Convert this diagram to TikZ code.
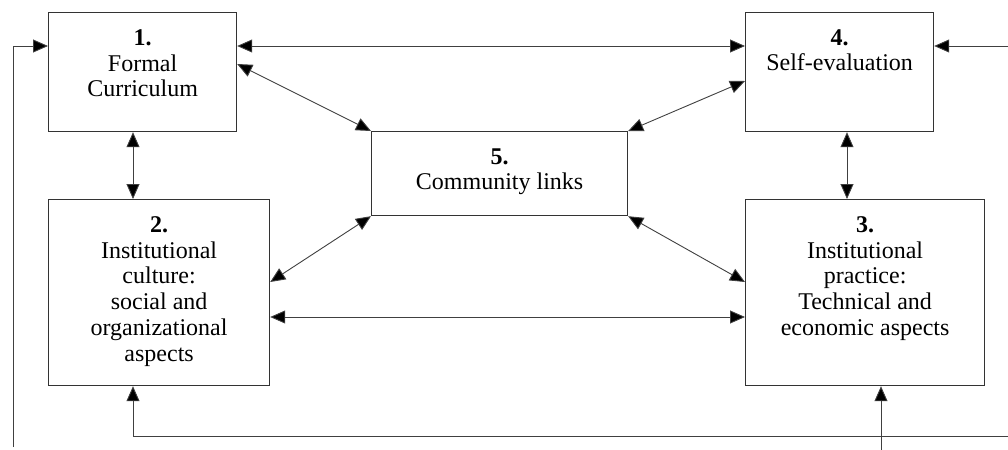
\documentclass[tikz,border=0pt]{standalone}
\usepackage{fontspec}
\setmainfont{Liberation Serif}
\usetikzlibrary{arrows.meta,calc}
\tikzset{
  box/.style={draw=black!80, line width=0.6pt, rectangle, anchor=north west, inner sep=0pt},
  lbl/.style={anchor=north, inner sep=0pt, align=center, font=\fontsize{12}{12.9}\selectfont},
  arr/.style={draw=black!75, line width=0.45pt, -{Triangle[length=7.5pt,width=6.5pt,fill=black]}},
  darr/.style={draw=black!75, line width=0.45pt, {Triangle[length=7.5pt,width=6.5pt,fill=black]}-{Triangle[length=7.5pt,width=6.5pt,fill=black]}},
}
\begin{document}
\begin{tikzpicture}[x=0.5pt,y=-0.5pt]
\useasboundingbox (0,0) rectangle (1008,450);
% boxes
\node[box, minimum width=94pt, minimum height=59.5pt] (b1) at (48,12) {};
\node[box, minimum width=110.5pt, minimum height=93pt] (b2) at (48,199) {};
\node[box, minimum width=94pt, minimum height=59.5pt] (b4) at (745,12) {};
\node[box, minimum width=119.5pt, minimum height=93pt] (b3) at (745,199) {};
\node[box, minimum width=128pt, minimum height=42pt] (b5) at (371,131) {};
% labels
\node[lbl] (t1) at ($(b1.north)+(0,17)$) {\textbf{1.}\\Formal\\Curriculum};
\node[lbl] (t2) at ($(b2.north)+(0,17)$) {\textbf{2.}\\Institutional\\culture:\\social and\\organizational\\aspects};
\node[lbl] (t4) at ($(b4.north)+(0,17)$) {\textbf{4.}\\Self-evaluation};
\node[lbl] (t3) at ($(b3.north)+(0,17)$) {\textbf{3.}\\Institutional\\practice:\\Technical and\\economic aspects};
\node[lbl] (t5) at ($(b5.north)+(0,17)$) {\textbf{5.}\\Community links};
% coordinates for feedback lines
\coordinate (lb) at (13,447);
\coordinate (lt) at (13,46);
\coordinate (rt) at (1008,46);
\coordinate (rb) at (1008,436);
\coordinate (bc) at (133,436);
\coordinate (bs) at (881,450);
% connectors
\draw[darr] ($(b1.north east)+(0,34)$) -- ($(b4.north west)+(0,34)$);
\draw[darr] ($(b1.north east)+(0,52)$) -- (b5.north west);
\draw[darr] ($(b4.north west)+(0,69)$) -- (b5.north east);
\draw[darr] ($(b1.south west)+(85,0)$) -- ($(b2.north west)+(85,0)$);
\draw[darr] ($(b4.south west)+(102,0)$) -- ($(b3.north west)+(102,0)$);
\draw[darr] (b5.south west) -- ($(b2.north east)+(0,83)$);
\draw[darr] (b5.south east) -- ($(b3.north west)+(0,83)$);
\draw[darr] ($(b2.north east)+(0,118)$) -- ($(b3.north west)+(0,118)$);
% feedback
\draw[arr] (lb) -- (lt) -- ($(b1.north west)+(0,34)$);
\draw[arr] (rt) -- ($(b4.north east)+(0,34)$);
\draw[arr] (rb) -- (bc) -- ($(b2.south west)+(85,0)$);
\draw[arr] (bs) -- ($(b3.south west)+(136,0)$);
\end{tikzpicture}
\end{document}
